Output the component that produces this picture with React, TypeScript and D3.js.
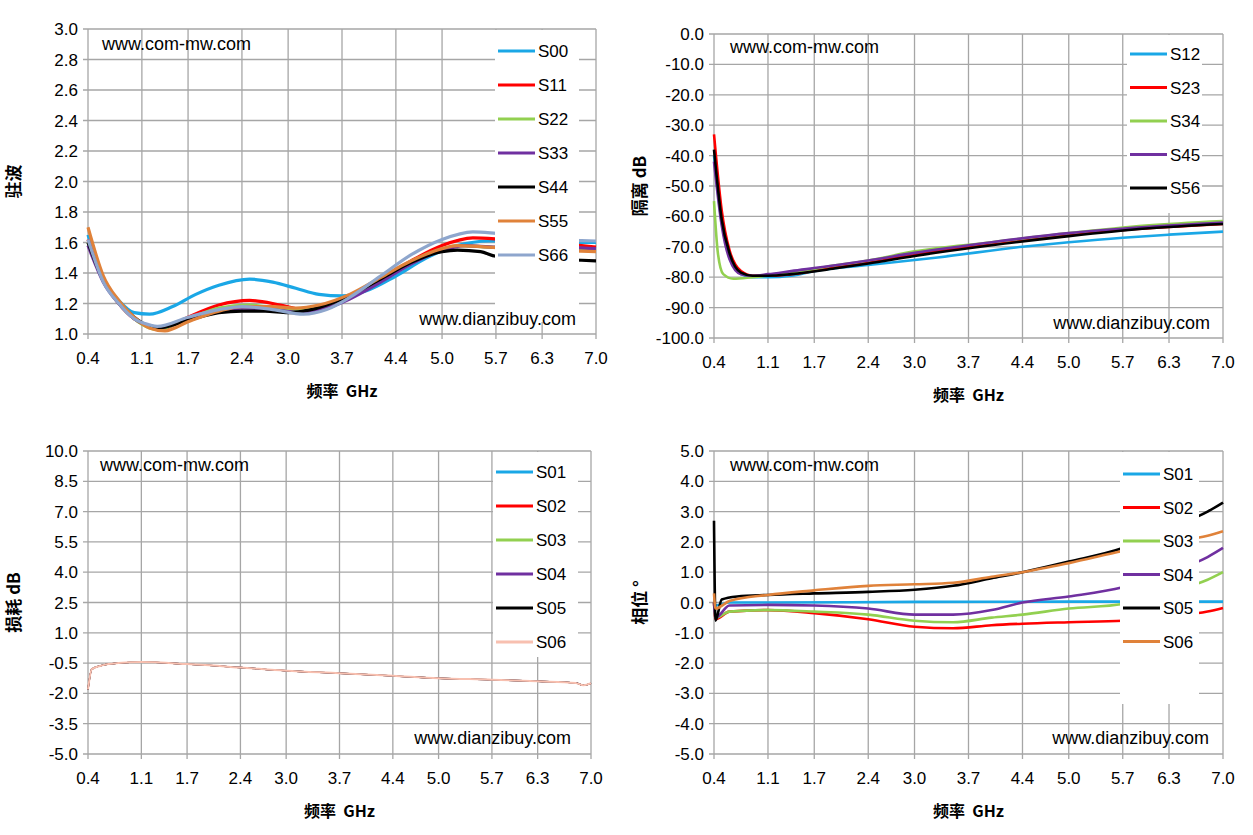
import * as d3 from 'd3'
import React from 'react'

type Pt = [number, number]
type Series = { name: string, color: string, pts: Pt[], w?: number }

const xTicks = ['0.4', '1.1', '1.7', '2.4', '3.0', '3.7', '4.4', '5.0', '5.7', '6.3', '7.0']

// 驻波
const vswr: Series[] = [
    { name: 'S00', color: '#1aa7e6', pts: [[0.4, 1.65], [0.6, 1.35], [0.8, 1.22], [1.0, 1.14], [1.2, 1.13], [1.5, 1.18], [1.8, 1.26], [2.1, 1.32], [2.5, 1.36], [2.8, 1.34], [3.1, 1.3], [3.4, 1.26], [3.7, 1.25], [4.0, 1.28], [4.4, 1.38], [4.8, 1.5], [5.2, 1.58], [5.6, 1.61], [6.0, 1.61], [6.4, 1.6], [7.0, 1.6]] },
    { name: 'S11', color: '#ff0000', pts: [[0.4, 1.62], [0.6, 1.35], [0.8, 1.2], [1.0, 1.1], [1.2, 1.05], [1.4, 1.04], [1.7, 1.11], [2.1, 1.19], [2.5, 1.22], [2.9, 1.19], [3.2, 1.16], [3.5, 1.18], [3.8, 1.24], [4.2, 1.36], [4.6, 1.48], [5.0, 1.58], [5.4, 1.63], [5.8, 1.62], [6.4, 1.6], [7.0, 1.57]] },
    { name: 'S22', color: '#92d050', pts: [[0.4, 1.6], [0.6, 1.35], [0.8, 1.2], [1.0, 1.1], [1.2, 1.04], [1.3, 1.03], [1.7, 1.1], [2.1, 1.17], [2.5, 1.19], [2.8, 1.17], [3.1, 1.16], [3.4, 1.18], [3.8, 1.24], [4.2, 1.36], [4.6, 1.47], [5.0, 1.55], [5.2, 1.58], [5.6, 1.57], [6.4, 1.56], [7.0, 1.55]] },
    { name: 'S33', color: '#7030a0', pts: [[0.4, 1.58], [0.6, 1.34], [0.8, 1.2], [1.0, 1.1], [1.2, 1.05], [1.3, 1.04], [1.7, 1.1], [2.1, 1.15], [2.4, 1.17], [2.8, 1.16], [3.2, 1.14], [3.5, 1.17], [3.8, 1.23], [4.2, 1.34], [4.6, 1.46], [5.0, 1.55], [5.3, 1.58], [5.7, 1.57], [6.4, 1.57], [7.0, 1.56]] },
    { name: 'S44', color: '#000000', pts: [[0.4, 1.6], [0.6, 1.35], [0.8, 1.21], [1.0, 1.11], [1.2, 1.05], [1.3, 1.04], [1.7, 1.09], [2.1, 1.14], [2.4, 1.15], [2.7, 1.15], [3.0, 1.14], [3.3, 1.16], [3.7, 1.23], [4.2, 1.36], [4.6, 1.47], [5.0, 1.54], [5.2, 1.55], [5.5, 1.54], [5.7, 1.51], [6.4, 1.49], [7.0, 1.48]] },
    { name: 'S55', color: '#e0823a', pts: [[0.4, 1.7], [0.6, 1.38], [0.8, 1.22], [1.0, 1.11], [1.2, 1.04], [1.4, 1.02], [1.7, 1.08], [2.1, 1.15], [2.4, 1.18], [2.8, 1.18], [3.1, 1.17], [3.4, 1.19], [3.8, 1.26], [4.2, 1.37], [4.6, 1.48], [5.0, 1.56], [5.2, 1.58], [5.6, 1.57], [6.4, 1.55], [7.0, 1.54]] },
    { name: 'S66', color: '#8ea6cd', pts: [[0.4, 1.62], [0.6, 1.34], [0.8, 1.2], [1.0, 1.1], [1.2, 1.06], [1.3, 1.05], [1.7, 1.11], [2.1, 1.16], [2.4, 1.18], [2.8, 1.16], [3.2, 1.13], [3.5, 1.16], [3.8, 1.24], [4.2, 1.38], [4.6, 1.52], [5.0, 1.62], [5.4, 1.67], [5.7, 1.66], [6.4, 1.62], [7.0, 1.61]] },
]

// 隔离
const iso: Series[] = [
    { name: 'S12', color: '#1aa7e6', pts: [[0.4, -40], [0.5, -62], [0.6, -73], [0.75, -79], [0.9, -80], [1.1, -80], [1.4, -79.5], [1.7, -78], [2.4, -76], [3.3, -73.5], [4.4, -70], [5.0, -68.5], [5.7, -67], [6.3, -66], [7.0, -65]] },
    { name: 'S23', color: '#ff0000', pts: [[0.4, -33], [0.5, -58], [0.6, -71], [0.75, -78], [0.9, -79.5], [1.1, -79.5], [1.4, -79], [2.0, -76.5], [2.4, -75], [3.0, -72.5], [4.0, -69], [5.0, -66], [6.0, -64], [7.0, -62.5]] },
    { name: 'S34', color: '#92d050', pts: [[0.4, -55], [0.45, -72], [0.52, -79], [0.65, -80.5], [0.9, -80], [1.1, -79.5], [1.4, -78.5], [2.0, -76], [2.4, -74.5], [3.0, -71.5], [4.0, -68.5], [5.0, -65.5], [6.0, -63], [7.0, -61.5]] },
    { name: 'S45', color: '#7030a0', pts: [[0.4, -42], [0.5, -63], [0.6, -74], [0.75, -79], [0.9, -79.5], [1.1, -79], [1.4, -78], [2.0, -76], [2.4, -74.5], [3.0, -72], [4.0, -68.5], [5.0, -65.5], [6.0, -63.5], [7.0, -62]] },
    { name: 'S56', color: '#000000', pts: [[0.4, -38], [0.5, -61], [0.6, -72], [0.75, -78.5], [0.9, -79.5], [1.1, -79.5], [1.4, -79], [2.0, -77], [2.4, -75.5], [3.0, -73], [4.0, -69.5], [5.0, -66.5], [6.0, -64], [7.0, -62.5]] },
]

// 损耗
const lossBase: Pt[] = [[0.4, -1.8], [0.45, -0.8], [0.6, -0.6], [0.8, -0.5], [1.1, -0.45], [1.7, -0.55], [2.4, -0.72], [3.0, -0.88], [3.7, -1.0], [4.4, -1.13], [5.0, -1.25], [5.7, -1.32], [6.3, -1.4], [6.8, -1.48], [6.9, -1.6], [7.0, -1.5]]
const loss: Series[] = [
    { name: 'S01', color: '#1aa7e6', pts: lossBase },
    { name: 'S02', color: '#ff0000', pts: lossBase },
    { name: 'S03', color: '#92d050', pts: lossBase },
    { name: 'S04', color: '#7030a0', pts: lossBase },
    { name: 'S05', color: '#000000', pts: lossBase },
    { name: 'S06', color: '#f8c0b0', pts: lossBase, w: 2 },
]

// 相位
const phase: Series[] = [
    { name: 'S01', color: '#1aa7e6', pts: [[0.4, 0.0], [0.42, -0.1], [0.6, 0.0], [1.1, 0.0], [3.0, 0.02], [5.0, 0.03], [7.0, 0.03]] },
    { name: 'S02', color: '#ff0000', pts: [[0.4, 0.0], [0.42, -0.55], [0.6, -0.3], [1.1, -0.25], [1.7, -0.35], [2.4, -0.55], [3.0, -0.8], [3.5, -0.85], [4.0, -0.75], [4.4, -0.7], [5.0, -0.65], [5.7, -0.6], [6.3, -0.45], [6.8, -0.3], [7.0, -0.18]] },
    { name: 'S03', color: '#92d050', pts: [[0.4, 0.0], [0.42, -0.5], [0.6, -0.3], [1.1, -0.25], [1.7, -0.3], [2.4, -0.4], [3.0, -0.6], [3.5, -0.65], [4.0, -0.5], [4.4, -0.4], [5.0, -0.2], [5.7, -0.05], [6.3, 0.35], [6.8, 0.75], [7.0, 1.0]] },
    { name: 'S04', color: '#7030a0', pts: [[0.4, 0.0], [0.42, -0.5], [0.6, -0.1], [1.1, -0.08], [1.7, -0.1], [2.4, -0.2], [3.0, -0.4], [3.5, -0.4], [4.0, -0.25], [4.4, 0.0], [5.0, 0.2], [5.7, 0.5], [6.3, 1.0], [6.8, 1.5], [7.0, 1.8]] },
    { name: 'S05', color: '#000000', pts: [[0.4, 2.7], [0.42, -0.6], [0.5, 0.1], [0.7, 0.2], [1.1, 0.25], [1.7, 0.3], [2.4, 0.35], [3.0, 0.42], [3.5, 0.55], [4.0, 0.8], [4.4, 1.0], [5.0, 1.35], [5.7, 1.8], [6.3, 2.45], [6.8, 3.0], [7.0, 3.3]] },
    { name: 'S06', color: '#e0823a', pts: [[0.4, 0.3], [0.42, -0.2], [0.6, 0.05], [1.1, 0.25], [1.7, 0.4], [2.4, 0.55], [3.0, 0.6], [3.5, 0.65], [4.0, 0.85], [4.4, 1.0], [5.0, 1.3], [5.7, 1.7], [6.3, 2.0], [6.8, 2.2], [7.0, 2.35]] },
]

const vswrTicks = ['1.0', '1.2', '1.4', '1.6', '1.8', '2.0', '2.2', '2.4', '2.6', '2.8', '3.0']
const isoTicks = ['-100.0', '-90.0', '-80.0', '-70.0', '-60.0', '-50.0', '-40.0', '-30.0', '-20.0', '-10.0', '0.0']
const lossTicks = ['-5.0', '-3.5', '-2.0', '-0.5', '1.0', '2.5', '4.0', '5.5', '7.0', '8.5', '10.0']
const phaseTicks = ['-5.0', '-4.0', '-3.0', '-2.0', '-1.0', '0.0', '1.0', '2.0', '3.0', '4.0', '5.0']

type PanelProps = {
    series: Series[], yTicks: string[], yLabel: string,
    x0: number, x1: number, y0: number, y1: number,
    lw: number, legend: { x: number, y: number, w: number, h: number, step: number, first: number },
    wmTop: [number, number], wmBot: [number, number], curve: any
}

const font = '"Liberation Sans Narrow", "Liberation Sans", Arial, sans-serif'
const wmFont = '"Liberation Sans", Arial, sans-serif'
const serif = '"Noto Sans CJK SC", serif'

function Panel(p: PanelProps) {
    const yv = p.yTicks.map(Number)
    const x = d3.scaleLinear().domain([0.4, 7.0]).range([p.x0, p.x1])
    const y = d3.scaleLinear().domain([yv[0], yv[yv.length - 1]]).range([p.y1, p.y0])
    const line = d3.line<Pt>().x(d => x(d[0])).y(d => y(d[1])).curve(p.curve)
    const xv = xTicks.map(Number)
    const L = p.legend
    return (
        <g>
            {yv.map((v, i) => <g key={'y' + i}>
                <line x1={p.x0 - 5} x2={p.x1} y1={y(v)} y2={y(v)} stroke="#a6a6a6" strokeWidth={1.3} />
                <text x={p.x0 - 10} y={y(v) + 6} textAnchor="end" fontSize={17} fontFamily={font} fill="#000">{p.yTicks[i]}</text>
            </g>)}
            {xv.map((v, i) => <g key={'x' + i}>
                <line x1={x(v)} x2={x(v)} y1={p.y0} y2={p.y1 + 5} stroke="#a6a6a6" strokeWidth={1.3} />
                <text x={x(v)} y={p.y1 + 30} textAnchor="middle" fontSize={17} fontFamily={font} fill="#000">{xTicks[i]}</text>
            </g>)}
            {p.series.map(s => <path key={s.name} d={line(s.pts) || ''} fill="none" stroke={s.color} strokeWidth={s.w ?? p.lw} strokeLinejoin="round" />)}
            <rect x={L.x} y={L.y} width={L.w} height={L.h} fill="#fff" />
            {p.series.map((s, i) => <g key={'l' + s.name}>
                <line x1={L.x + 3} x2={L.x + 40} y1={L.first + i * L.step} y2={L.first + i * L.step} stroke={s.color} strokeWidth={3} />
                <text x={L.x + 43} y={L.first + i * L.step + 6} fontSize={17} fontFamily={font}>{s.name}</text>
            </g>)}
            <text x={p.wmTop[0]} y={p.wmTop[1]} fontSize={18} fontFamily={wmFont}>www.com-mw.com</text>
            <text x={p.wmBot[0]} y={p.wmBot[1]} fontSize={18} fontFamily={wmFont} textAnchor="end">www.dianzibuy.com</text>
            <text x={(p.x0 + p.x1) / 2} y={p.y1 + 63} textAnchor="middle" fontSize={16} fontWeight="bold" fontFamily={serif} style={{ whiteSpace: 'pre' }}>{'频率  GHz'}</text>
            <text transform={`translate(${p.x0 - 68},${(p.y0 + p.y1) / 2}) rotate(-90)`} textAnchor="middle" fontSize={17} fontWeight="bold" fontFamily={serif}>{p.yLabel}</text>
        </g>
    )
}

export default function App() {
    return (
        <svg width={1253} height={835} style={{ position: 'absolute', left: 0, top: 0, background: '#fff' }}>
            <Panel series={vswr} yTicks={vswrTicks} yLabel="驻波" x0={88} x1={596} y0={29} y1={334} lw={3.2} curve={d3.curveMonotoneX}
                legend={{ x: 495, y: 30, w: 84, h: 292, step: 34, first: 51 }} wmTop={[102, 50]} wmBot={[576, 325]} />
            <Panel series={iso} yTicks={isoTicks} yLabel="隔离 dB" x0={714} x1={1223} y0={34} y1={338} lw={2.6} curve={d3.curveMonotoneX}
                legend={{ x: 1127, y: 35, w: 75, h: 178, step: 33.5, first: 54 }} wmTop={[730, 53]} wmBot={[1210, 329]} />
            <Panel series={loss} yTicks={lossTicks} yLabel="损耗 dB" x0={88} x1={591} y0={451} y1={754} lw={1.4} curve={d3.curveMonotoneX}
                legend={{ x: 493, y: 452, w: 85, h: 205, step: 34, first: 472 }} wmTop={[100, 471]} wmBot={[571, 744]} />
            <Panel series={phase} yTicks={phaseTicks} yLabel="相位 °" x0={714} x1={1223} y0={451} y1={754} lw={2.6} curve={d3.curveMonotoneX}
                legend={{ x: 1120, y: 452, w: 79, h: 252, step: 33.5, first: 474 }} wmTop={[730, 471]} wmBot={[1209, 744]} />
        </svg>
    )
}
